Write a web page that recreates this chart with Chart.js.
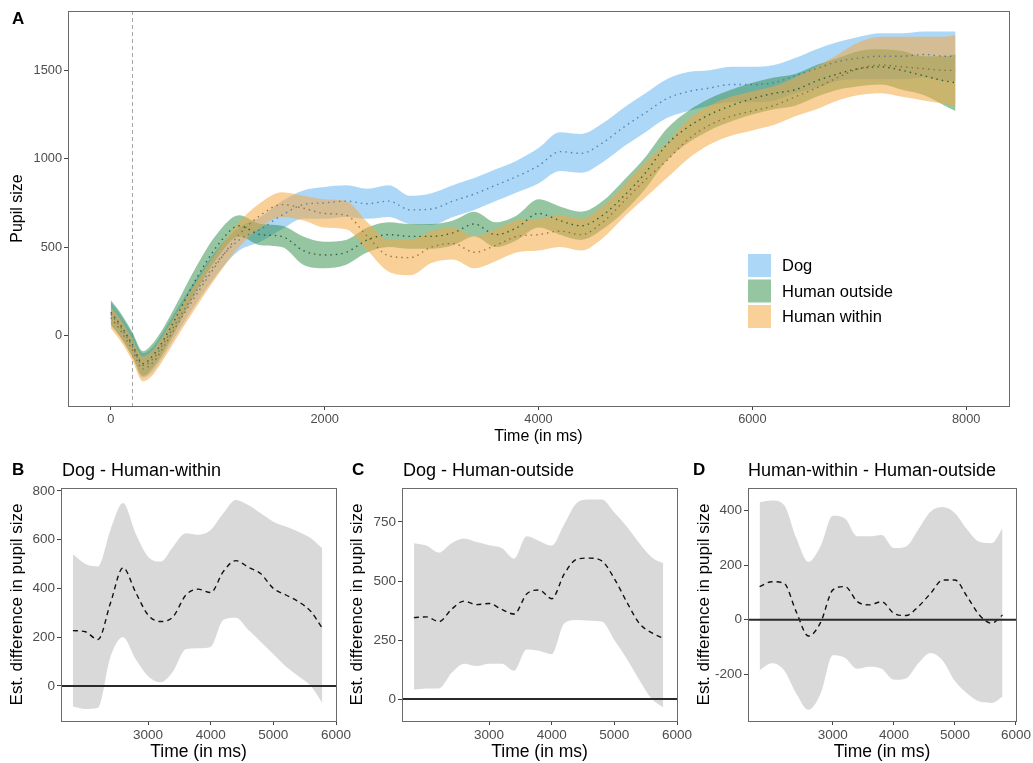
<!DOCTYPE html>
<html>
<head>
<meta charset="utf-8">
<script src="https://cdn.jsdelivr.net/npm/chart.js@4.4.1/dist/chart.umd.min.js"></script>
<style>
  html, body { margin: 0; padding: 0; background: #fff; }
  #wrap { position: relative; width: 1033px; height: 763px; overflow: hidden;
          font-family: "Liberation Sans", Arial, sans-serif; }
  #wrap canvas { position: absolute; left: 0; top: 0; }
  .lbl { position: absolute; line-height: 18px; white-space: nowrap; color: #000; font-size: 18px; }
  .tag { font-weight: bold; font-size: 17px; }
</style>
</head>
<body>
<div id="wrap">
  <canvas id="chartA" width="1033" height="763"></canvas>
  <canvas id="chartB" width="1033" height="763"></canvas>
  <canvas id="chartC" width="1033" height="763"></canvas>
  <canvas id="chartD" width="1033" height="763"></canvas>
  <div class="lbl tag" style="left:12px;top:10px">A</div>
  <div class="lbl tag" style="left:12px;top:461px">B</div>
  <div class="lbl" style="left:62px;top:461px">Dog - Human-within</div>
  <div class="lbl tag" style="left:352px;top:461px">C</div>
  <div class="lbl" style="left:403px;top:461px">Dog - Human-outside</div>
  <div class="lbl tag" style="left:693px;top:461px">D</div>
  <div class="lbl" style="left:748px;top:461px">Human-within - Human-outside</div>
</div>
<script>
// ---- panel A: pupil size over time (mean + ribbon per condition)
const timeA = [0, 100, 200, 300, 400, 500, 600, 800, 1000, 1200, 1400, 1600, 1800, 2000, 2200, 2400, 2600,
  2800, 3000, 3200, 3400, 3600, 3800, 4000, 4200, 4400, 4600, 4800, 5000, 5200, 5400, 5600, 5800,
  6000, 6200, 6400, 6600, 6800, 7000, 7200, 7400, 7600, 7800, 7900];

const dogMean = [120, 40, -60, -170, -130, -40, 60, 250, 420, 540, 600, 680, 740, 750, 760, 745, 760,
  710, 715, 760, 800, 850, 900, 960, 1040, 1030, 1090, 1180, 1260, 1340, 1380, 1400, 1420,
  1420, 1430, 1470, 1510, 1550, 1570, 1580, 1580, 1590, 1580, 1580];
const dogLow = [60, -20, -120, -240, -200, -110, -10, 180, 350, 480, 530, 600, 660, 660, 670, 660, 670,
  630, 625, 670, 710, 760, 810, 860, 930, 920, 980, 1070, 1150, 1230, 1270, 1300, 1320,
  1320, 1330, 1370, 1400, 1440, 1450, 1450, 1450, 1460, 1440, 1440];
const dogHigh = [190, 110, 10, -100, -60, 30, 130, 320, 490, 610, 670, 760, 820, 840, 850, 830, 850,
  790, 805, 850, 890, 940, 990, 1060, 1150, 1140, 1200, 1290, 1370, 1450, 1490, 1500, 1520,
  1520, 1530, 1570, 1620, 1660, 1690, 1710, 1710, 1720, 1720, 1720];

const outsideMean = [130, 50, -50, -160, -110, -20, 90, 320, 510, 620, 570, 560, 480, 455, 470, 540, 570,
  560, 560, 580, 630, 570, 610, 690, 650, 620, 680, 790, 920, 1080, 1180, 1250, 1300,
  1340, 1370, 1390, 1440, 1480, 1510, 1520, 1500, 1470, 1440, 1430];
const outsideLow = [60, -20, -120, -230, -180, -90, 20, 250, 440, 560, 510, 500, 400, 380, 400, 470, 500,
  490, 490, 510, 560, 500, 540, 610, 570, 540, 600, 700, 830, 990, 1090, 1160, 1210,
  1250, 1280, 1300, 1350, 1390, 1410, 1420, 1390, 1360, 1300, 1270];
const outsideHigh = [200, 120, 20, -90, -40, 50, 160, 390, 580, 680, 630, 620, 560, 530, 540, 610, 640,
  630, 630, 650, 700, 640, 680, 770, 730, 700, 760, 880, 1010, 1170, 1270, 1340, 1390,
  1430, 1460, 1480, 1530, 1570, 1610, 1620, 1610, 1580, 1580, 1590];

const withinMean = [100, 20, -80, -190, -150, -60, 40, 230, 410, 570, 680, 740, 720, 690, 680, 560, 450,
  440, 500, 520, 470, 510, 560, 570, 590, 570, 640, 760, 880, 990, 1110, 1190, 1240,
  1270, 1300, 1350, 1400, 1460, 1510, 1530, 1520, 1510, 1500, 1500];
const withinLow = [40, -40, -140, -260, -220, -130, -30, 160, 340, 500, 610, 670, 650, 610, 600, 480, 360,
  340, 410, 430, 380, 420, 470, 480, 500, 480, 550, 670, 780, 890, 1000, 1080, 1130,
  1160, 1190, 1240, 1280, 1330, 1360, 1370, 1350, 1330, 1310, 1300];
const withinHigh = [160, 80, -20, -120, -80, 10, 110, 300, 480, 640, 750, 810, 790, 770, 760, 640, 540,
  540, 590, 610, 560, 600, 650, 660, 680, 660, 730, 850, 980, 1090, 1220, 1300, 1350,
  1380, 1410, 1460, 1520, 1590, 1660, 1690, 1690, 1690, 1690, 1700];

const legendLabels = ['Dog', 'Human outside', 'Human within'];
const markerTime = 200;
const ticksAx = [0, 2000, 4000, 6000, 8000];
const ticksAy = [0, 500, 1000, 1500];

// ---- panels B-D: estimated differences
const timeDiff = [1800, 2000, 2200, 2400, 2600, 2800, 3000, 3200, 3400, 3600, 3800, 4000, 4200, 4400,
  4600, 4800, 5000, 5200, 5400, 5600, 5780];

const bMean = [227, 222, 190, 340, 485, 385, 291, 264, 284, 372, 397, 383, 469, 514, 487, 460, 400, 373, 346, 305, 237];
const bLow = [-85, -95, -90, 120, 200, 110, 40, 15, 60, 150, 155, 160, 270, 280, 230, 180, 130, 80, 40, 0, -70];
const bHigh = [540, 500, 490, 640, 750, 626, 530, 510, 571, 626, 620, 640, 708, 763, 742, 708, 674, 654, 633, 606, 565];

const cMean = [345, 348, 328, 380, 415, 400, 405, 380, 360, 445, 462, 425, 530, 592, 597, 585, 510, 410, 320, 280, 258];
const cLow = [40, 45, 45, 110, 150, 140, 150, 150, 120, 210, 205, 190, 320, 335, 332, 328, 250, 170, 80, 0, -35];
const cHigh = [660, 650, 620, 660, 680, 665, 652, 640, 595, 690, 670, 650, 740, 830, 845, 845, 790, 730, 660, 600, 575];

const dMean = [121, 139, 133, 29, -60, -10, 109, 121, 66, 54, 66, 23, 15, 48, 96, 145, 145, 84, 17, -13, 17];
const dLow = [-185, -160, -185, -270, -330, -270, -130, -140, -180, -172, -180, -220, -215, -160, -122, -150, -225, -270, -300, -305, -282];
const dHigh = [430, 436, 420, 300, 212, 270, 380, 370, 305, 305, 310, 262, 268, 330, 395, 412, 390, 330, 285, 280, 335];

const ticksDiffX = [3000, 4000, 5000, 6000];
const ticksBy = [0, 200, 400, 600, 800];
const ticksCy = [0, 250, 500, 750];
const ticksDy = [-200, 0, 200, 400];

const FONT = '"Liberation Sans", Arial, sans-serif';
const fills = ['rgba(90,175,240,0.5)', 'rgba(45,140,70,0.5)', 'rgba(245,170,70,0.55)'];
const meanColors = ['rgba(70,110,160,0.8)', 'rgba(25,85,45,0.85)', 'rgba(140,95,40,0.8)'];

const pts = (xs, ys) => xs.map((x, i) => ({ x, y: ys[i] }));

function ribbon(times, low, high, color, order) {
  const base = { borderColor: 'transparent', borderWidth: 0, pointRadius: 0, order,
                 cubicInterpolationMode: 'monotone' };
  return [
    Object.assign({ data: pts(times, high), fill: '+1', backgroundColor: color }, base),
    Object.assign({ data: pts(times, low), fill: false }, base)
  ];
}

function meanLine(times, ys, color, dash, width) {
  return { data: pts(times, ys), fill: false, borderColor: color, borderWidth: width,
           borderDash: dash, pointRadius: 0, order: 0, cubicInterpolationMode: 'monotone' };
}

function scale(min, max, ticks, title, o) {
  return {
    type: 'linear', min, max,
    afterBuildTicks: s => { s.ticks = ticks.map(v => ({ value: v })); },
    afterFit: s => { if (o.width) s.width = o.width; if (o.height) s.height = o.height; },
    ticks: { callback: v => String(v), color: '#4d4d4d', font: { family: FONT, size: o.tickSize },
             padding: 2, maxRotation: 0, autoSkip: false },
    grid: { display: true, drawOnChartArea: false, drawTicks: true, tickLength: 4, color: '#444' },
    border: { display: false },
    title: { display: true, text: title, color: '#000', font: { family: FONT, size: o.titleSize },
             padding: o.titlePad }
  };
}

// frame, reference lines and legend
const frame = {
  id: 'frame',
  beforeDatasetsDraw(chart, args, opts) {
    if (opts.vline === undefined) return;
    const { ctx, chartArea: a, scales } = chart;
    const x = Math.round(scales.x.getPixelForValue(opts.vline)) + 0.5;
    ctx.save();
    ctx.strokeStyle = '#a6a6a6';
    ctx.lineWidth = 1;
    ctx.setLineDash([4, 3]);
    ctx.beginPath(); ctx.moveTo(x, a.top); ctx.lineTo(x, a.bottom); ctx.stroke();
    ctx.restore();
  },
  afterDatasetsDraw(chart, args, opts) {
    if (opts.hline === undefined) return;
    const { ctx, chartArea: a, scales } = chart;
    const y = scales.y.getPixelForValue(opts.hline);
    ctx.save();
    ctx.strokeStyle = '#2a2a2a';
    ctx.lineWidth = 2;
    ctx.beginPath(); ctx.moveTo(a.left, y); ctx.lineTo(a.right, y); ctx.stroke();
    ctx.restore();
  },
  afterDraw(chart, args, opts) {
    const { ctx, chartArea: a } = chart;
    ctx.save();
    ctx.strokeStyle = '#6a6a6a';
    ctx.lineWidth = 1;
    ctx.strokeRect(Math.round(a.left) + 0.5, Math.round(a.top) + 0.5,
                   Math.round(a.right - a.left), Math.round(a.bottom - a.top));
    const lg = opts.legend;
    if (lg) {
      ctx.font = lg.fontSize + 'px ' + FONT;
      ctx.textBaseline = 'middle';
      ctx.fillStyle = '#000';
      lg.labels.forEach((lab, i) => {
        const y = lg.y + i * (lg.size + lg.gap);
        ctx.fillStyle = lg.colors[i];
        ctx.fillRect(lg.x, y, lg.size, lg.size);
        ctx.fillStyle = '#000';
        ctx.fillText(lab, lg.x + lg.size + 11, y + lg.size / 2 + 1);
      });
    }
    ctx.restore();
  }
};

const base = {
  responsive: false, animation: false, devicePixelRatio: 1, events: [],
  plugins: { legend: { display: false }, tooltip: { enabled: false } }
};

// panel A
new Chart(document.getElementById('chartA'), {
  type: 'line',
  data: {
    datasets: [
      ...ribbon(timeA, dogLow, dogHigh, fills[0], 3),
      ...ribbon(timeA, outsideLow, outsideHigh, fills[1], 2),
      ...ribbon(timeA, withinLow, withinHigh, fills[2], 1),
      meanLine(timeA, dogMean, meanColors[0], [1.5, 4], 1.4),
      meanLine(timeA, outsideMean, meanColors[1], [1.5, 4], 1.4),
      meanLine(timeA, withinMean, meanColors[2], [1.5, 4], 1.4)
    ]
  },
  options: Object.assign({}, base, {
    layout: { padding: { left: 0, top: 11, right: 24, bottom: 313 } },
    scales: {
      x: scale(-400, 8400, ticksAx, 'Time (in ms)', { height: 44, tickSize: 12.8, titleSize: 16, titlePad: { top: 0, bottom: 4 } }),
      y: scale(-400, 1836, ticksAy, 'Pupil size', { width: 68, tickSize: 12.8, titleSize: 16, titlePad: { top: 8, bottom: 0 } })
    },
    plugins: Object.assign({}, base.plugins, {
      frame: { vline: markerTime,
               legend: { x: 748, y: 254, size: 23, gap: 2.5, fontSize: 16.5, labels: legendLabels, colors: fills } }
    })
  }),
  plugins: [frame]
});

// panels B-D
function diffPanel(id, low, high, mean, ymin, ymax, yticks, pad, yWidth, titlePad) {
  new Chart(document.getElementById(id), {
    type: 'line',
    data: {
      datasets: [
        ...ribbon(timeDiff, low, high, 'rgba(165,165,165,0.42)', 1),
        meanLine(timeDiff, mean, '#111', [5, 4], 1.4)
      ]
    },
    options: Object.assign({}, base, {
      layout: { padding: pad },
      scales: {
        x: scale(1610, 6000, ticksDiffX, 'Time (in ms)', { height: 42, tickSize: 13.5, titleSize: 17.5, titlePad: { top: 0, bottom: 0 } }),
        y: scale(ymin, ymax, yticks, 'Est. difference in pupil size', { width: yWidth, tickSize: 13.5, titleSize: 17, titlePad: { top: titlePad, bottom: 0 } })
      },
      plugins: Object.assign({}, base.plugins, { frame: { hline: 0 } })
    }),
    plugins: [frame]
  });
}

diffPanel('chartB', bLow, bHigh, bMean, -144, 812, ticksBy, { left: 0, top: 488, right: 697, bottom: 0 }, 61, 7.5);
diffPanel('chartC', cLow, cHigh, cMean, -93, 894, ticksCy, { left: 340, top: 488, right: 356, bottom: 0 }, 62, 7.5);
diffPanel('chartD', dLow, dHigh, dMean, -371, 482, ticksDy, { left: 685, top: 488, right: 14, bottom: 0 }, 63, 9.5);
</script>
</body>
</html>
